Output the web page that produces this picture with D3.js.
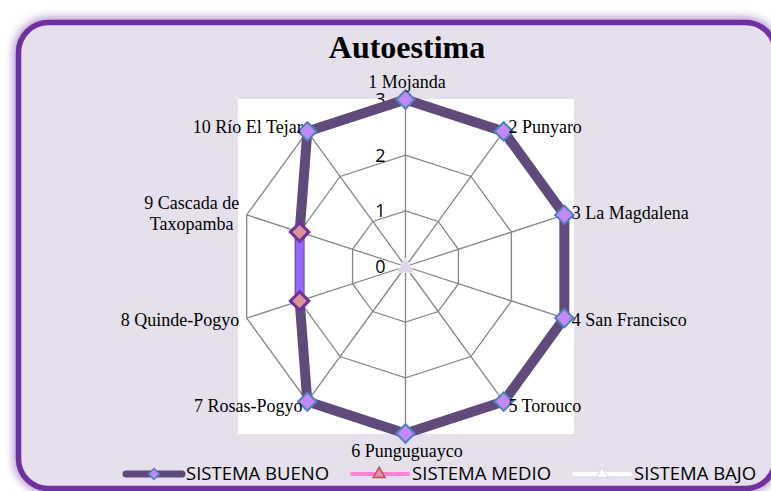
<!DOCTYPE html>
<html>
<head>
<meta charset="utf-8">
<script src="https://cdn.jsdelivr.net/npm/d3@7"></script>
<style>
  body { margin: 0; background: #ffffff; }
  svg { display: block; }
</style>
</head>
<body>
<script>
// data
var categories = ["1 Mojanda", "2 Punyaro", "3 La Magdalena", "4 San Francisco", "5 Torouco",
  "6 Punguguayco", "7 Rosas-Pogyo", "8 Quinde-Pogyo", "9 Cascada de\nTaxopamba", "10 Río El Tejar"];
var bueno = [3, 3, 3, 3, 3, 3, 3, 2, 2, 3];
var medio = [null, null, null, null, null, null, null, 2, 2, null];
var bajo = [0, 0, 0, 0, 0, 0, 0, 0, 0, 0];
var ticks = [0, 1, 2, 3];
var seriesNames = ["SISTEMA BUENO", "SISTEMA MEDIO", "SISTEMA BAJO"];

var W = 771, H = 491;
var cx = 405.5, cy = 266.5;

var svg = d3.select("body").append("svg")
  .attr("width", W)
  .attr("height", H);

var defs = svg.append("defs");
defs.append("filter").attr("id", "glow")
  .attr("x", "-5%").attr("y", "-5%").attr("width", "110%").attr("height", "110%")
  .append("feGaussianBlur").attr("stdDeviation", 4.5);

// frame with soft purple glow
svg.append("rect")
  .attr("x", 18.5).attr("y", 22.5).attr("width", 757).attr("height", 466)
  .attr("rx", 30)
  .attr("fill", "none")
  .attr("stroke", "#7030A0").attr("stroke-width", 10).attr("opacity", 0.55)
  .attr("filter", "url(#glow)");
svg.append("rect")
  .attr("x", 18.5).attr("y", 22.5).attr("width", 757).attr("height", 466)
  .attr("rx", 30)
  .attr("fill", "#E5E0EC")
  .attr("stroke", "#7030A0").attr("stroke-width", 5.5);

// plot area
svg.append("rect")
  .attr("x", 238).attr("y", 99).attr("width", 336).attr("height", 335)
  .attr("fill", "#ffffff");

// title
svg.append("text")
  .attr("x", 407).attr("y", 58)
  .attr("text-anchor", "middle")
  .attr("font-family", "Liberation Serif, Times New Roman, serif")
  .attr("font-weight", "bold")
  .attr("font-size", 32)
  .text("Autoestima");

var n = categories.length;
var r = d3.scaleLinear().domain([0, 3]).range([0, 167]);
var angle = d3.scaleLinear().domain([0, n]).range([0, 2 * Math.PI]);

var g = svg.append("g").attr("transform", "translate(" + cx + "," + cy + ")");

function px(i, v) { return Math.sin(angle(i)) * r(v); }
function py(i, v) { return -Math.cos(angle(i)) * r(v); }

// grid rings
var ring = d3.lineRadial()
  .angle(function(d, i) { return angle(i); })
  .radius(function(d) { return r(d); })
  .curve(d3.curveLinearClosed);

ticks.filter(function(t) { return t > 0; }).forEach(function(t) {
  g.append("path")
    .attr("d", ring(d3.range(n).map(function() { return t; })))
    .attr("fill", "none")
    .attr("stroke", "#868686")
    .attr("stroke-width", 1.3);
});

// spokes
g.selectAll("line.spoke")
  .data(d3.range(n))
  .enter().append("line")
  .attr("class", "spoke")
  .attr("x1", 0).attr("y1", 0)
  .attr("x2", function(i) { return px(i, 3); })
  .attr("y2", function(i) { return py(i, 3); })
  .attr("stroke", "#868686")
  .attr("stroke-width", 1.3);

// tick labels
g.selectAll("text.tick")
  .data(ticks)
  .enter().append("text")
  .attr("class", "tick")
  .attr("x", -20)
  .attr("y", function(d) { return -r(d); })
  .attr("dy", "0.36em")
  .attr("text-anchor", "end")
  .attr("font-family", "Open Sans, sans-serif")
  .attr("font-size", 18)
  .text(function(d) { return d; });

// series lines
var lineB = d3.lineRadial()
  .angle(function(d, i) { return angle(i); })
  .radius(function(d) { return r(d); })
  .curve(d3.curveLinearClosed);

g.append("path")
  .attr("d", lineB(bueno))
  .attr("fill", "none")
  .attr("stroke", "#604A7B")
  .attr("stroke-width", 10)
  .attr("stroke-linejoin", "round");

var lineM = d3.lineRadial()
  .defined(function(d) { return d != null; })
  .angle(function(d, i) { return angle(i); })
  .radius(function(d) { return r(d); });

g.append("path")
  .attr("d", lineM(medio))
  .attr("fill", "none")
  .attr("stroke", "#9966FF")
  .attr("stroke-width", 8);

// markers
var diamond = d3.symbol().type(d3.symbolSquare).size(170);
var tri = d3.symbol().type(d3.symbolTriangle).size(115);

g.selectAll("path.mb")
  .data(bueno.map(function(v, i) { return { i: i, v: v }; })
    .filter(function(d) { return medio[d.i] == null; }))
  .enter().append("path")
  .attr("class", "mb")
  .attr("d", diamond)
  .attr("transform", function(d) {
    return "translate(" + px(d.i, d.v) + "," + py(d.i, d.v) + ") rotate(45)";
  })
  .attr("fill", "#C389F7")
  .attr("stroke", "#4F81BD")
  .attr("stroke-width", 2);

g.selectAll("path.mm")
  .data(medio.map(function(v, i) { return { i: i, v: v }; })
    .filter(function(d) { return d.v != null; }))
  .enter().append("path")
  .attr("class", "mm")
  .attr("d", diamond)
  .attr("transform", function(d) {
    return "translate(" + px(d.i, d.v) + "," + py(d.i, d.v) + ") rotate(45)";
  })
  .attr("fill", "#D99694")
  .attr("stroke", "#7030A0")
  .attr("stroke-width", 3);

g.selectAll("path.ml")
  .data(bajo.map(function(v, i) { return { i: i, v: v }; }))
  .enter().append("path")
  .attr("class", "ml")
  .attr("d", tri)
  .attr("transform", function(d) {
    return "translate(" + px(d.i, d.v) + "," + (py(d.i, d.v) + 1) + ")";
  })
  .attr("fill", "#DDD5E8")
  .attr("stroke", "#ECE8F2")
  .attr("stroke-width", 1);

// category labels
categories.forEach(function(name, i) {
  var a = angle(i), s = Math.sin(a), c = Math.cos(a);
  var vx = px(i, 3), vy = py(i, 3);
  var lines = name.split("\n");
  var t = g.append("text")
    .attr("font-family", "Liberation Serif, Times New Roman, serif")
    .attr("font-size", 18)
    .attr("fill", "#000");
  var x, y, anchor;
  if (Math.abs(s) < 0.1) {
    anchor = "middle"; x = vx + 1.5; y = vy + 6 - 17.5 * c;
  } else {
    var dx = 3 + 5 * s * s;
    anchor = s > 0 ? "start" : "end";
    x = s > 0 ? vx + dx : vx - dx;
    y = vy + 6 - 6 * c;
  }
  var lh = 21;
  y -= (lines.length - 1) * lh / 2;
  if (lines.length > 1) {
    // multi-line labels are centred as a block
    var tmp = t.append("tspan").text(lines[0]);
    var wmax = 0;
    lines.forEach(function(l) { tmp.text(l); wmax = Math.max(wmax, tmp.node().getComputedTextLength()); });
    tmp.remove();
    x = anchor === "end" ? x - wmax / 2 : x + wmax / 2;
    anchor = "middle";
  }
  t.attr("text-anchor", anchor);
  lines.forEach(function(l, k) {
    t.append("tspan").attr("x", x).attr("y", y + k * lh).text(l);
  });
});

// legend
var leg = svg.append("g");
var lx = 126, ly = 474;
seriesNames.forEach(function(name, k) {
  var item = leg.append("g").attr("transform", "translate(" + lx + "," + ly + ")");
  var stroke = ["#604A7B", "#FF80D5", "#ffffff"][k];
  var sw = [7, 4, 4][k];
  item.append("line")
    .attr("x1", 0).attr("x2", 56).attr("y1", 0).attr("y2", 0)
    .attr("stroke", stroke).attr("stroke-width", sw)
    .attr("stroke-linecap", "round");
  if (k === 0) {
    item.append("path").attr("d", d3.symbol().type(d3.symbolSquare).size(60)())
      .attr("transform", "translate(28,0) rotate(45)")
      .attr("fill", "#C389F7").attr("stroke", "#4F81BD").attr("stroke-width", 1.5);
  } else if (k === 1) {
    item.append("path").attr("d", d3.symbol().type(d3.symbolTriangle).size(60)())
      .attr("transform", "translate(27,0)")
      .attr("fill", "#E28FB0").attr("stroke", "#C0504D").attr("stroke-width", 1.5);
  } else {
    item.append("path").attr("d", d3.symbol().type(d3.symbolTriangle).size(60)())
      .attr("transform", "translate(28,0)")
      .attr("fill", "#ffffff").attr("stroke", "#d8d8d8").attr("stroke-width", 1);
  }
  var txt = item.append("text")
    .attr("x", 60).attr("y", 6)
    .attr("font-family", "Open Sans, sans-serif")
    .attr("font-size", 18.5)
    .attr("fill", "#000")
    .text(name);
  lx += 60 + txt.node().getComputedTextLength() + 23;
});
</script>
</body>
</html>
